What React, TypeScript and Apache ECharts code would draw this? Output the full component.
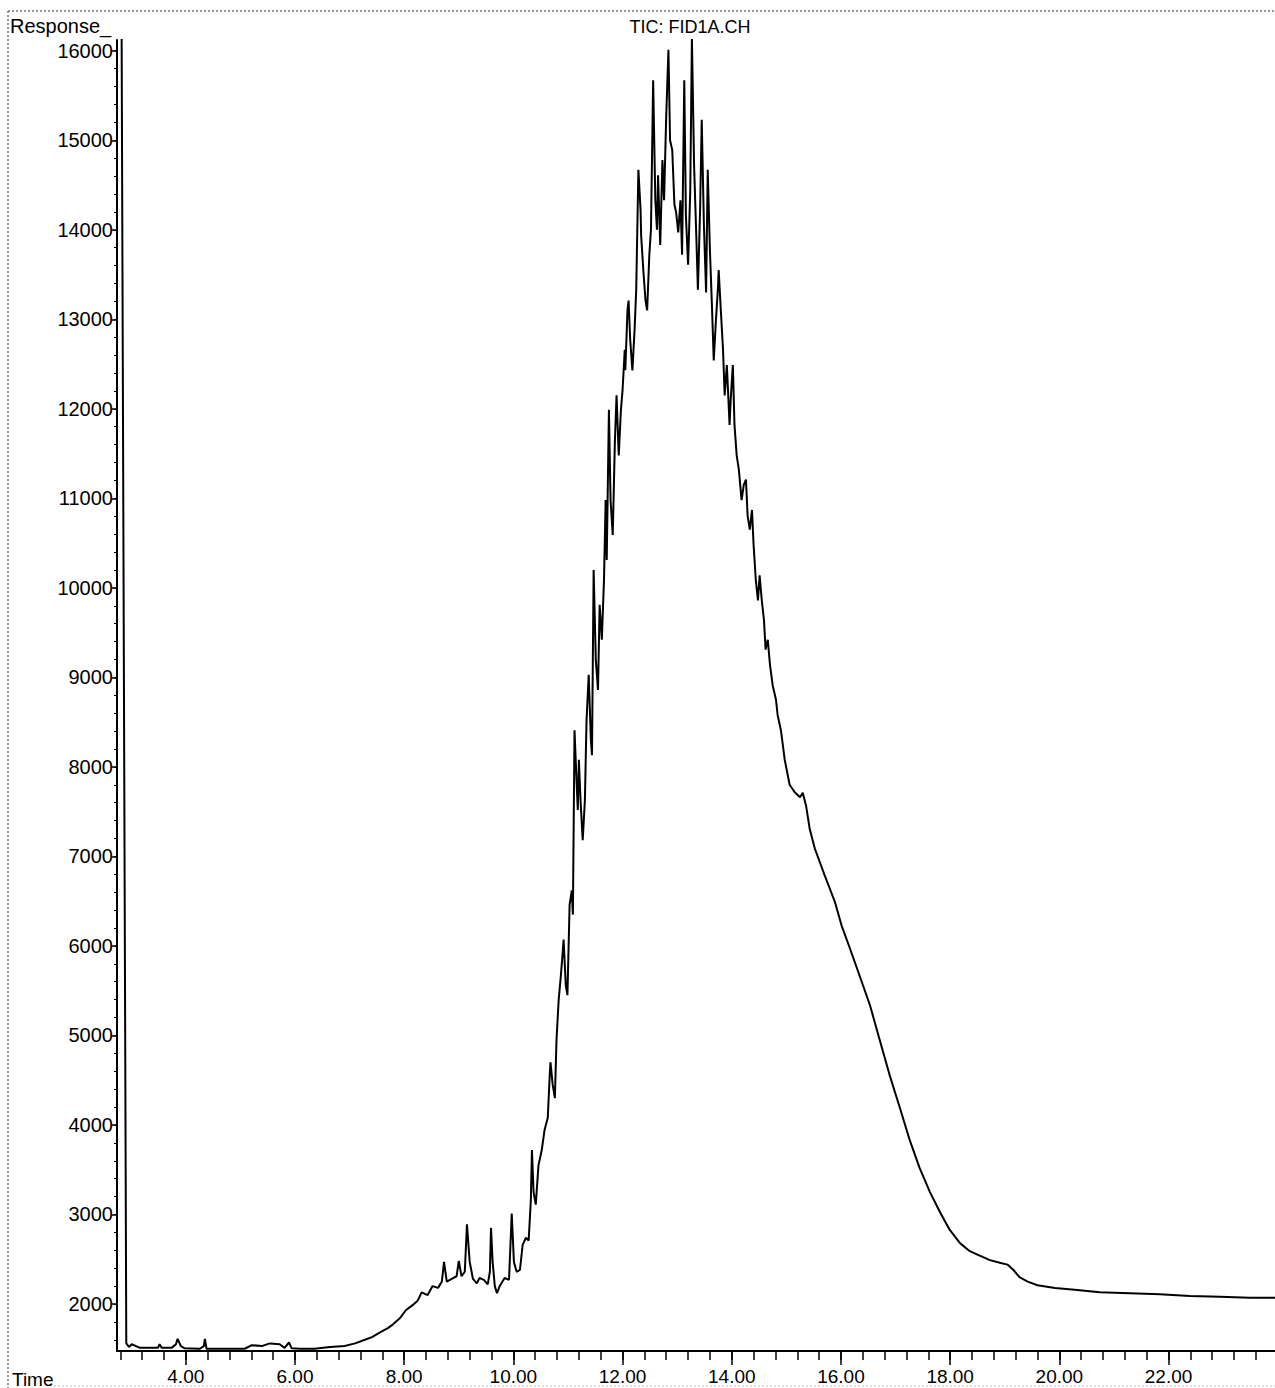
import React, { useEffect, useRef } from "react";
import * as echarts from "echarts";

// Retention time (min) and detector response
const TIME = [
  2.74, 2.82, 2.91, 2.96, 3.01, 3.16, 3.49, 3.52, 3.56, 3.74, 3.82, 3.85, 3.91, 3.98,
  4.26, 4.33, 4.35, 4.38, 4.81, 5.08, 5.21, 5.39, 5.54, 5.72, 5.81, 5.89, 5.94, 6.09,
  6.36, 6.64, 6.91, 7.10, 7.28, 7.41, 7.55, 7.70, 7.79, 7.92, 8.03, 8.16, 8.25, 8.32,
  8.43, 8.52, 8.62, 8.69, 8.73, 8.78, 8.87, 8.96, 9.00, 9.05, 9.11, 9.15, 9.20, 9.26,
  9.33, 9.38, 9.46, 9.53, 9.57, 9.59, 9.62, 9.66, 9.70, 9.75, 9.84, 9.92, 9.95, 9.97,
  10.01, 10.06, 10.12, 10.17, 10.23, 10.28, 10.32, 10.34, 10.37, 10.41, 10.46, 10.52,
  10.57, 10.63, 10.67, 10.68, 10.72, 10.76, 10.79, 10.83, 10.87, 10.90, 10.92, 10.96,
  10.99, 11.03, 11.07, 11.09, 11.12, 11.16, 11.18, 11.20, 11.23, 11.27, 11.31, 11.34,
  11.38, 11.42, 11.44, 11.47, 11.51, 11.55, 11.58, 11.62, 11.66, 11.69, 11.71, 11.75,
  11.78, 11.82, 11.86, 11.89, 11.93, 11.97, 12.00, 12.04, 12.05, 12.09, 12.11, 12.14,
  12.18, 12.22, 12.25, 12.29, 12.33, 12.34, 12.38, 12.42, 12.45, 12.49, 12.52, 12.56,
  12.60, 12.63, 12.65, 12.69, 12.73, 12.76, 12.80, 12.84, 12.87, 12.91, 12.95, 12.98,
  13.02, 13.06, 13.09, 13.13, 13.16, 13.20, 13.24, 13.27, 13.31, 13.35, 13.38, 13.42,
  13.45, 13.49, 13.53, 13.56, 13.60, 13.64, 13.67, 13.71, 13.75, 13.76, 13.80, 13.84,
  13.87, 13.91, 13.96, 13.98, 14.02, 14.05, 14.09, 14.13, 14.18, 14.22, 14.26, 14.29,
  14.33, 14.37, 14.40, 14.44, 14.48, 14.51, 14.55, 14.59, 14.62, 14.66, 14.70, 14.75,
  14.81, 14.84, 14.90, 14.97, 15.06, 15.15, 15.25, 15.30, 15.36, 15.43, 15.52, 15.61,
  15.70, 15.79, 15.89, 16.01, 16.16, 16.34, 16.53, 16.71, 16.89, 17.08, 17.26, 17.44,
  17.63, 17.81, 17.99, 18.18, 18.36, 18.54, 18.73, 18.91, 19.05, 19.16, 19.27, 19.42,
  19.60, 19.92, 20.28, 20.74, 21.29, 21.84, 22.39, 22.94, 23.49, 23.95,
];

const RESPONSE = [
  17000, 17000, 1560, 1520, 1550, 1510, 1510, 1550, 1510, 1510, 1550, 1610, 1530, 1505,
  1500, 1530, 1610, 1500, 1500, 1500, 1540, 1530, 1560, 1550, 1510, 1570, 1505, 1500,
  1500, 1520, 1530, 1560, 1600, 1630, 1680, 1730, 1770, 1840, 1930, 1990, 2040, 2130,
  2100, 2200, 2180, 2250, 2470, 2250, 2280, 2310, 2480, 2310, 2360, 2890, 2470, 2280,
  2230, 2290, 2270, 2220, 2360, 2850, 2470, 2200, 2120, 2200, 2290, 2270, 2710, 3010,
  2470, 2360, 2380, 2660, 2740, 2710, 3160, 3720, 3250, 3110, 3550, 3720,
  3940, 4080, 4610, 4700, 4450, 4300, 4950, 5400, 5670, 5900, 6070, 5560,
  5450, 6460, 6620, 6350, 8410, 7800, 7520, 8080, 7630, 7180, 7630, 8520,
  9030, 8300, 8130, 10200, 9190, 8860, 9810, 9420, 10090, 10980, 10310, 11990,
  10980, 10590, 11650, 12150, 11480, 11990, 12210, 12660, 12430, 13100, 13210, 12770,
  12430, 12880, 13330, 14670, 14220, 13940, 13550, 13210, 13100, 13720, 14000, 15670,
  14330, 14000, 14610, 13830, 14780, 14330, 15280, 16010, 15000, 14890, 14280, 14200,
  13970, 14330, 13720, 15670, 14160, 13610, 14440, 16140, 14720, 13940, 13330, 14220,
  15230, 14050, 13300, 14670, 13770, 13100, 12540, 12990, 13380, 13550, 13100, 12660,
  12150, 12490, 11820, 12100, 12490, 11820, 11480, 11320, 10980, 11150, 11210, 10810,
  10650, 10870, 10480, 10090, 9860, 10140, 9860, 9640, 9310, 9420, 9140, 8910,
  8750, 8580, 8410, 8080, 7800, 7720, 7660, 7710, 7570, 7300, 7090, 6940,
  6790, 6650, 6490, 6230, 5980, 5670, 5340, 4950, 4560, 4190, 3830, 3520,
  3250, 3030, 2830, 2680, 2590, 2540, 2490, 2460, 2440, 2380, 2300, 2250,
  2210, 2180, 2160, 2130, 2120, 2110, 2090, 2080, 2070, 2070,
];

const X_MAJOR = [4, 6, 8, 10, 12, 14, 16, 18, 20, 22];
const Y_MAJOR = [2000, 3000, 4000, 5000, 6000, 7000, 8000, 9000, 10000, 11000, 12000, 13000, 14000, 15000, 16000];

const TITLE = "TIC: FID1A.CH";
const Y_NAME = "Response_";
const X_NAME = "Time";

const FONT = '"Liberation Sans", Arial, sans-serif';

export default function App() {
  const ref = useRef<HTMLDivElement>(null);

  useEffect(() => {
    document.body.style.margin = "0";
    const chart = echarts.init(ref.current!, null, { renderer: "svg" });

    const xMinor: number[] = [];
    for (let i = 0; i <= 52; i++) xMinor.push(Math.round((2.8 + 0.4 * i) * 10) / 10);
    const yMinor: number[] = [];
    for (let v = 1600; v <= 16000; v += 200) yMinor.push(v);

    const data = TIME.map((t, i) => [t, RESPONSE[i]]);
    const xMin = 2.74;
    const xMax = 23.95;
    const yMin = 1475;
    const yMax = 16120;

    chart.setOption({
      animation: false,
      backgroundColor: "#ffffff",
      grid: { left: 117, right: 0, top: 40, bottom: 37, containLabel: false },
      xAxis: [
        {
          type: "value",
          position: "bottom",
          min: xMin,
          max: xMax,
          axisLine: { show: true, lineStyle: { color: "#000", width: 2 } },
          axisTick: { show: true, customValues: X_MAJOR, length: 14, lineStyle: { color: "#000", width: 1.5 } },
          axisLabel: {
            customValues: X_MAJOR,
            formatter: (v: number) => v.toFixed(2),
            fontSize: 19,
            fontFamily: FONT,
            color: "#000",
            margin: 16,
          },
          splitLine: { show: false },
        },
        {
          type: "value",
          position: "bottom",
          min: xMin,
          max: xMax,
          axisLine: { show: false },
          axisTick: { show: true, customValues: xMinor, length: 9, lineStyle: { color: "#000", width: 1.5 } },
          axisLabel: { show: false },
          splitLine: { show: false },
        },
      ],
      yAxis: [
        {
          type: "value",
          position: "left",
          min: yMin,
          max: yMax,
          axisLine: { show: true, lineStyle: { color: "#000", width: 2 } },
          axisTick: { show: true, customValues: Y_MAJOR, length: 5, lineStyle: { color: "#000", width: 1.5 } },
          axisLabel: {
            customValues: Y_MAJOR,
            formatter: (v: number) => String(v),
            fontSize: 20,
            fontFamily: FONT,
            color: "#000",
            margin: 4,
          },
          splitLine: { show: false },
        },
        {
          type: "value",
          position: "left",
          min: yMin,
          max: yMax,
          axisLine: { show: false },
          axisTick: { show: true, customValues: yMinor, length: 3, lineStyle: { color: "#000", width: 1 } },
          axisLabel: { show: false },
          splitLine: { show: false },
        },
      ],
      series: [
        {
          type: "line",
          xAxisIndex: 0,
          yAxisIndex: 0,
          data,
          showSymbol: false,
          symbol: "none",
          clip: true,
          lineStyle: { color: "#000", width: 2 },
        },
      ],
      graphic: [
        { type: "line", shape: { x1: 8, y1: 11, x2: 1275, y2: 11 }, style: { stroke: "#777", lineWidth: 1.5, lineDash: [2, 2] } },
        { type: "line", shape: { x1: 8, y1: 11, x2: 8, y2: 1388 }, style: { stroke: "#777", lineWidth: 1.5, lineDash: [2, 2] } },
        { type: "line", shape: { x1: 50, y1: 1386, x2: 1275, y2: 1386 }, style: { stroke: "#bbb", lineWidth: 1, lineDash: [2, 2] } },
        {
          type: "text",
          x: 10,
          y: 26,
          style: { text: Y_NAME, font: `20px ${FONT}`, fill: "#000", align: "left", verticalAlign: "middle" },
        },
        {
          type: "text",
          x: 690,
          y: 27,
          style: { text: TITLE, font: `18px ${FONT}`, fill: "#000", align: "center", verticalAlign: "middle" },
        },
        {
          type: "text",
          x: 12,
          y: 1379,
          style: { text: X_NAME, font: `19px ${FONT}`, fill: "#000", align: "left", verticalAlign: "middle" },
        },
      ],
    });

    return () => chart.dispose();
  }, []);

  return <div ref={ref} style={{ width: 1275, height: 1388 }} />;
}
